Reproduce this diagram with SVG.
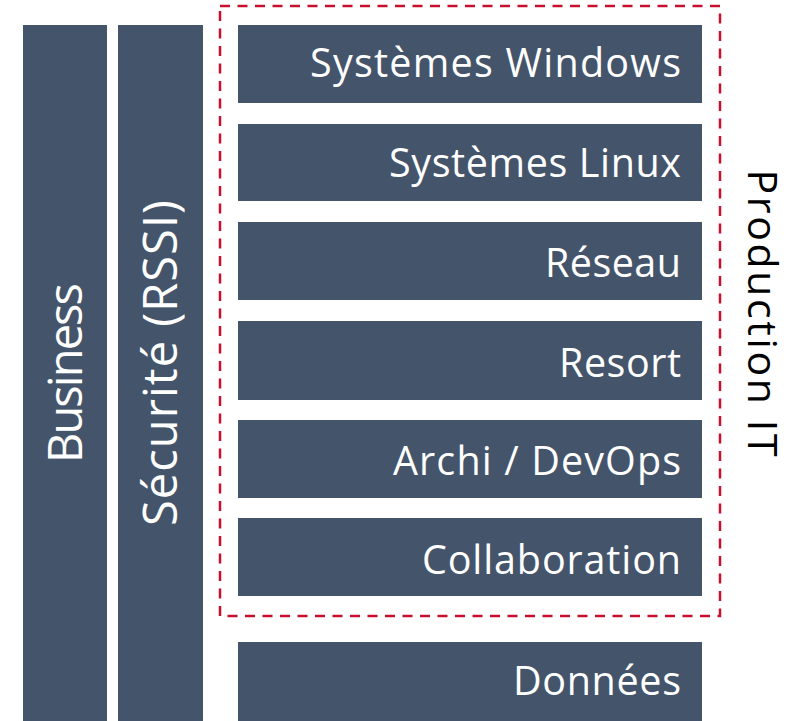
<svg xmlns="http://www.w3.org/2000/svg" width="805" height="721" viewBox="0 0 805 721">
<style>
.box{fill:#44546A;}
.t{font-family:"Open Sans","Noto Sans","Liberation Sans",sans-serif;fill:#FFFFFF;font-size:39.5px;text-anchor:end;}
.v{font-family:"Open Sans","Noto Sans","Liberation Sans",sans-serif;fill:#FFFFFF;font-size:47px;text-anchor:middle;}
.p{font-family:"Open Sans","Noto Sans","Liberation Sans",sans-serif;fill:#000000;font-size:41px;text-anchor:middle;}
.frame{fill:none;stroke:#C8102E;stroke-width:2.5;stroke-dasharray:10 7.5;}
</style>
<rect width="805" height="721" fill="#FFFFFF"/>
<g id="business">
<rect class="box" x="23" y="25" width="84" height="700"/>
<text class="v" transform="translate(82,373) rotate(-90)" textLength="180">Business</text>
</g>
<g id="securite">
<rect class="box" x="118" y="25" width="85" height="700"/>
<text class="v" transform="translate(177,363) rotate(-90)" textLength="326">Sécurité (RSSI)</text>
</g>
<g id="production-it">
<rect class="frame" x="220" y="6" width="500" height="610"/>
<text class="p" transform="translate(748,313) rotate(90)" textLength="287">Production IT</text>
</g>
<g id="windows">
<rect class="box" x="238" y="25" width="464" height="78"/>
<text class="t" x="681" y="77" textLength="371">Systèmes Windows</text>
</g>
<g id="linux">
<rect class="box" x="238" y="124" width="464" height="77"/>
<text class="t" x="681" y="176.5" textLength="292">Systèmes Linux</text>
</g>
<g id="reseau">
<rect class="box" x="238" y="222" width="464" height="78"/>
<text class="t" x="681" y="276.5" textLength="136">Réseau</text>
</g>
<g id="resort">
<rect class="box" x="238" y="321" width="464" height="79"/>
<text class="t" x="681" y="376.5" textLength="122">Resort</text>
</g>
<g id="archi">
<rect class="box" x="238" y="420" width="464" height="78"/>
<text class="t" x="681" y="475" textLength="288">Archi / DevOps</text>
</g>
<g id="collaboration">
<rect class="box" x="238" y="518" width="464" height="78"/>
<text class="t" x="681" y="573.5" textLength="259">Collaboration</text>
</g>
<g id="donnees">
<rect class="box" x="238" y="642" width="464" height="83"/>
<text class="t" x="681" y="695" textLength="168">Données</text>
</g>
<g id="connectors"></g>
</svg>
